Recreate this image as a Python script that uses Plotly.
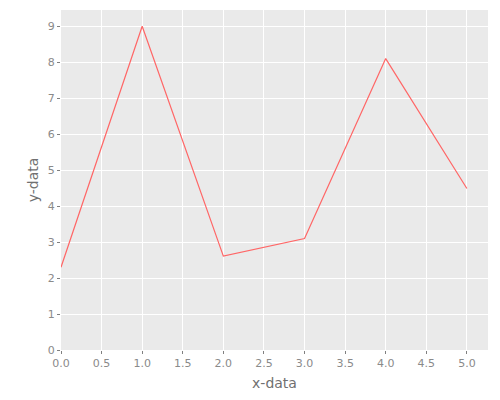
import plotly.graph_objects as go

x_data = [0, 1, 2, 3, 4, 5]
y_data = [2.3, 9.0, 2.61, 3.1, 8.1, 4.49]
x_ticks = [0, 0.5, 1, 1.5, 2, 2.5, 3, 3.5, 4, 4.5, 5]
x_ticklabels = ["0.0", "0.5", "1.0", "1.5", "2.0", "2.5", "3.0", "3.5", "4.0", "4.5", "5.0"]
y_ticks = [0, 1, 2, 3, 4, 5, 6, 7, 8, 9]

fig = go.Figure()
fig.add_trace(go.Scatter(x=x_data, y=y_data, mode="lines",
                         line=dict(color="#FF6666", width=1.2), showlegend=False))

axis_common = dict(
    showgrid=True, gridcolor="white", gridwidth=1.3,
    zeroline=False, showline=False, automargin=False,
    ticks="outside", ticklen=3, tickcolor="#808080", tickwidth=1,
    tickfont=dict(family="DejaVu Sans", size=11, color="#8a8a8a"),
)

fig.update_layout(
    width=500, height=400,
    margin=dict(l=61, r=12, t=10, b=50),
    paper_bgcolor="white", plot_bgcolor="#EAEAEA",
    xaxis=dict(range=[0, 5.26], tickvals=x_ticks, ticktext=x_ticklabels,
               title=dict(text="x-data", font=dict(family="DejaVu Sans", size=14, color="#707070"), standoff=8),
               **axis_common),
    yaxis=dict(range=[0, 9.45], tickvals=y_ticks,
               title=dict(text="y-data", font=dict(family="DejaVu Sans", size=14, color="#707070"), standoff=5),
               **axis_common),
)

fig.write_html("out.html", config={"displayModeBar": False},
               post_script="document.body.style.margin='0';")
